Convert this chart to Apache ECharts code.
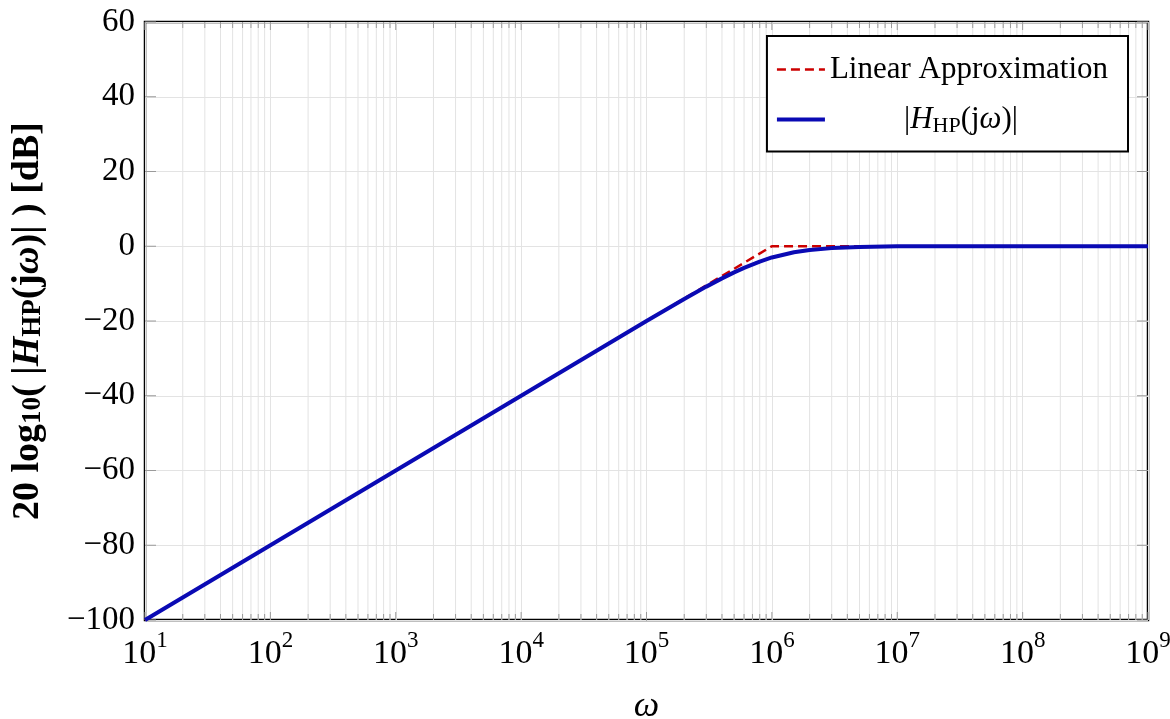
<!DOCTYPE html>
<html>
<head>
<meta charset="utf-8">
<script src="https://cdn.jsdelivr.net/npm/echarts@6/dist/echarts.min.js"></script>
<style>
    html, body { margin: 0; padding: 0; background: #fff; }
    #main { width: 1170px; height: 719px; }
</style>
</head>
<body>
<div id="main"></div>
<script>
// values
var omega = [1e1, 1e2, 1e3, 1e4, 1e5, 2e5, 3e5, 4e5, 5e5, 6e5, 8e5, 1e6, 1.5e6, 2e6, 3e6, 5e6, 1e7, 1e8, 1e9];
var magDb = [-100, -80, -60, -40, -20, -14.1, -10.8, -8.6, -7.0, -5.8, -4.1, -3.0, -1.6, -1.0, -0.5, -0.2, 0, 0, 0];
var approxOmega = [1e1, 1e6, 1e9];
var approxDb = [-100, 0, 0];
var decadeExp = [1, 2, 3, 4, 5, 6, 7, 8, 9];
var minorMult = [2, 3, 4, 5, 6, 7, 8, 9];
var yTicks = [-100, -80, -60, -40, -20, 0, 20, 40, 60];

var FONT = 'Liberation Serif';

var blueData = omega.map(function (w, i) { return [w, magDb[i]]; });
var redData = approxOmega.map(function (w, i) { return [w, approxDb[i]]; });

// tick positions on the log axis: [value, isMajor]
var xTickData = [];
decadeExp.forEach(function (e, i) {
    xTickData.push([Math.pow(10, e), 1]);
    if (i < decadeExp.length - 1) {
        minorMult.forEach(function (m) {
            xTickData.push([m * Math.pow(10, e), 0]);
        });
    }
});
var yTickData = yTicks.map(function (v) { return [10, v]; });

var myChart = echarts.init(document.getElementById('main'));

var option = {
    animation: false,
    backgroundColor: '#fff',
    grid: {
        left: 145, right: 22, top: 22, bottom: 99,
        outerBoundsMode: 'none',
        containLabel: false,
        show: true, borderColor: '#000', borderWidth: 2.5, backgroundColor: 'transparent'
    },
    legend: {
        data: ['Linear Approximation', 'Hmag'],
        orient: 'vertical',
        right: 42,
        top: 36,
        backgroundColor: '#fff',
        borderColor: '#000',
        borderWidth: 2,
        borderRadius: 0,
        padding: [18, 20, 14, 8],
        itemGap: 19,
        itemWidth: 48,
        itemHeight: 14,
        itemStyle: { opacity: 0, borderWidth: 0 },
        lineStyle: { width: 'inherit' },
        textStyle: {
            fontFamily: FONT,
            fontSize: 31,
            color: '#000',
            rich: {
                t: { fontFamily: FONT, fontSize: 31, lineHeight: 36 },
                i: { fontFamily: FONT, fontSize: 31, fontStyle: 'italic', lineHeight: 36 },
                sub: { fontFamily: FONT, fontSize: 22, lineHeight: 22, verticalAlign: 'bottom', padding: [10, 0, 0, 0] },
                sp: { width: 74 }
            }
        },
        formatter: function (name) {
            if (name === 'Hmag') {
                return '{sp| }{t||}{i|H}{sub|HP}{t|(j}{i|ω}{t|)|}';
            }
            return '{t|' + name + '}';
        }
    },
    xAxis: {
        type: 'log',
        logBase: 10,
        min: 10,
        max: 1e9,
        name: 'ω',
        nameLocation: 'middle',
        nameGap: 69,
        nameTextStyle: { fontFamily: FONT, fontSize: 36, fontStyle: 'italic', color: '#000' },
        axisLine: { show: false },
        axisTick: { show: false },
        splitLine: { show: true, lineStyle: { color: '#e3e3e3', width: 1 } },
        axisLabel: {
            margin: 9,
            color: '#000',
            formatter: function (v) {
                var e = Math.round(Math.log(v) / Math.LN10);
                return '{b|10}{s|' + e + '}';
            },
            rich: {
                b: { fontFamily: FONT, fontSize: 34, lineHeight: 50, color: '#000' },
                s: { fontFamily: FONT, fontSize: 23, lineHeight: 14, verticalAlign: 'top', color: '#000' }
            }
        }
    },
    yAxis: {
        type: 'value',
        min: -100,
        max: 60,
        interval: 20,
        name: '{b|20 log}{bs|10}{b|( |}{bi|H}{bs|HP}{b|(j}{bi|ω}{b|)| ) [dB]}',
        nameLocation: 'middle',
        nameRotate: 90,
        nameGap: 98,
        nameTextStyle: {
            rich: {
                b: { fontFamily: FONT, fontSize: 38, fontWeight: 'bold', color: '#000', lineHeight: 38 },
                bi: { fontFamily: FONT, fontSize: 38, fontWeight: 'bold', fontStyle: 'italic', color: '#000', lineHeight: 38 },
                bs: { fontFamily: FONT, fontSize: 27, fontWeight: 'bold', color: '#000', lineHeight: 25, verticalAlign: 'bottom', padding: [10, 0, 0, 0] }
            }
        },
        axisLine: { show: false },
        axisTick: { show: false },
        splitLine: { show: true, lineStyle: { color: '#e3e3e3', width: 1 } },
        axisLabel: {
            margin: 10,
            fontFamily: FONT,
            fontSize: 33,
            color: '#000',
            formatter: function (v) {
                return v < 0 ? '\u2212' + (-v) : String(v);
            }
        }
    },
    series: [
        {
            // minor grid lines and ticks on top / bottom
            name: 'xticks',
            type: 'custom',
            silent: true,
            z: 1,
            clip: false,
            data: xTickData,
            renderItem: function (params, api) {
                var cs = params.coordSys;
                var x = api.coord([api.value(0), 0])[0];
                var children = [];
                if (api.value(1) !== 1) {
                    children.push({
                        type: 'line',
                        shape: { x1: x, y1: cs.y, x2: x, y2: cs.y + cs.height },
                        style: { stroke: '#e3e3e3', lineWidth: 1 }
                    });
                }
                var len = api.value(1) === 1 ? 8 : 6;
                children.push({
                    type: 'line',
                    shape: { x1: x, y1: cs.y + cs.height, x2: x, y2: cs.y + cs.height - len },
                    style: { stroke: '#9a9a9a', lineWidth: 1 }
                });
                children.push({
                    type: 'line',
                    shape: { x1: x, y1: cs.y, x2: x, y2: cs.y + len },
                    style: { stroke: '#9a9a9a', lineWidth: 1 }
                });
                return { type: 'group', children: children };
            }
        },
        {
            name: 'yticks',
            type: 'custom',
            silent: true,
            z: 1,
            clip: false,
            data: yTickData,
            renderItem: function (params, api) {
                var cs = params.coordSys;
                var y = api.coord([10, api.value(1)])[1];
                return {
                    type: 'group',
                    children: [
                        { type: 'line', shape: { x1: cs.x, y1: y, x2: cs.x + 11, y2: y }, style: { stroke: '#9a9a9a', lineWidth: 1 } },
                        { type: 'line', shape: { x1: cs.x + cs.width, y1: y, x2: cs.x + cs.width - 11, y2: y }, style: { stroke: '#9a9a9a', lineWidth: 1 } }
                    ]
                };
            }
        },
        {
            name: 'Linear Approximation',
            type: 'line',
            z: 3,
            symbol: 'none',
            data: redData,
            lineStyle: { color: '#cc0000', width: 2.5, type: [9, 5] },
            itemStyle: { color: '#cc0000' }
        },
        {
            name: 'Hmag',
            type: 'line',
            z: 4,
            symbol: 'none',
            data: blueData,
            lineStyle: { color: '#0a0ab4', width: 4 },
            itemStyle: { color: '#0a0ab4' }
        }
    ]
};

myChart.setOption(option);
</script>
</body>
</html>
